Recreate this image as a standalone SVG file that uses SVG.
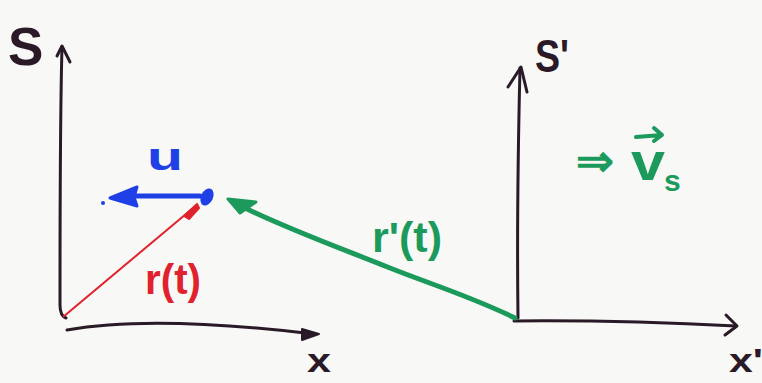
<svg xmlns="http://www.w3.org/2000/svg" width="762" height="383" viewBox="0 0 762 383">
<style>
.ax{fill:none;stroke:#2a1a28;stroke-width:3;stroke-linecap:round;stroke-linejoin:round}
.blk{fill:#2a1a28;font-family:"Liberation Sans",Arial,sans-serif;font-weight:bold}
.red{fill:#e0222e;font-family:"Liberation Sans",Arial,sans-serif;font-weight:bold}
.blu{fill:#1e40e6;font-family:"Liberation Sans",Arial,sans-serif;font-weight:bold}
.grn{fill:#1c9a5c;font-family:"Liberation Sans",Arial,sans-serif;font-weight:bold}
</style>
<rect width="762" height="383" fill="#f8f8f6"/>
<g id="frameS">
<path class="ax" d="M62,47 C60,120 60,220 60,305 Q60,316 66,318"/>
<path class="ax" d="M57,56 L62,46 L70,62"/>
<path class="ax" d="M67,330 Q150,315 305,333"/>
<path d="M302,329 L319,334 L302,340 Z" fill="#2a1a28" stroke="#2a1a28" stroke-width="2" stroke-linejoin="round"/>
<text class="blk" x="8" y="65" font-size="53">S</text>
<text class="blk" x="307" y="372" font-size="34" textLength="24" lengthAdjust="spacingAndGlyphs">x</text>
</g>
<g id="frameSprime">
<path class="ax" d="M518,318 C517,240 518,150 520,68"/>
<path class="ax" d="M508,87 L521,67 L527,92"/>
<path class="ax" d="M514,321 Q620,320 736,326"/>
<path class="ax" d="M726,315 L737,326 L725,335"/>
<text class="blk" x="535" y="72" font-size="47" textLength="34" lengthAdjust="spacingAndGlyphs">S'</text>
<text class="blk" x="729" y="372" font-size="34" textLength="34" lengthAdjust="spacingAndGlyphs">x'</text>
</g>
<g id="particle">
<ellipse cx="207" cy="197" rx="6" ry="9" transform="rotate(25 207 197)" fill="#1e40e6"/>
</g>
<g id="connectors">
<path d="M63,317 L192,209" fill="none" stroke="#e0222e" stroke-width="2"/>
<path d="M184,216 L197,204 L199,208 L189,219 Z" fill="#e0222e" stroke="#e0222e" stroke-width="2" stroke-linejoin="round"/>
<path d="M200,196 L125,196" fill="none" stroke="#1e40e6" stroke-width="5" stroke-linecap="round"/>
<path d="M110,198 L137,187 L134,197 L137,206 Z" fill="#1e40e6" stroke="#1e40e6" stroke-width="3" stroke-linejoin="round"/>
<circle cx="103" cy="203" r="2" fill="#1e40e6"/>
<path d="M515,318 C470,296 430,284 390,268 C340,248 290,230 245,208" fill="none" stroke="#1c9a5c" stroke-width="5" stroke-linecap="round"/>
<path d="M228,199 L256,202 L240,213 Z" fill="#1c9a5c" stroke="#1c9a5c" stroke-width="3" stroke-linejoin="round"/>
</g>
<g id="labels">
<text class="blu" x="147" y="170" font-size="38" textLength="36" lengthAdjust="spacingAndGlyphs">u</text>
<text class="red" x="145" y="294" font-size="42" textLength="56" lengthAdjust="spacingAndGlyphs">r(t)</text>
<text class="grn" x="372" y="252" font-size="42" textLength="70" lengthAdjust="spacingAndGlyphs">r'(t)</text>
<text class="grn" x="576" y="176" font-size="44" font-family="DejaVu Sans,sans-serif" textLength="38" lengthAdjust="spacingAndGlyphs">⇒</text>
<text class="grn" x="631" y="180" font-size="54" textLength="34" lengthAdjust="spacingAndGlyphs">v</text>
<path d="M636,137 L662,135 M654,128 L662,135 L654,141" fill="none" stroke="#1c9a5c" stroke-width="4" stroke-linecap="round" stroke-linejoin="round"/>
<text class="grn" x="664" y="191" font-size="30">s</text>
</g>
</svg>
